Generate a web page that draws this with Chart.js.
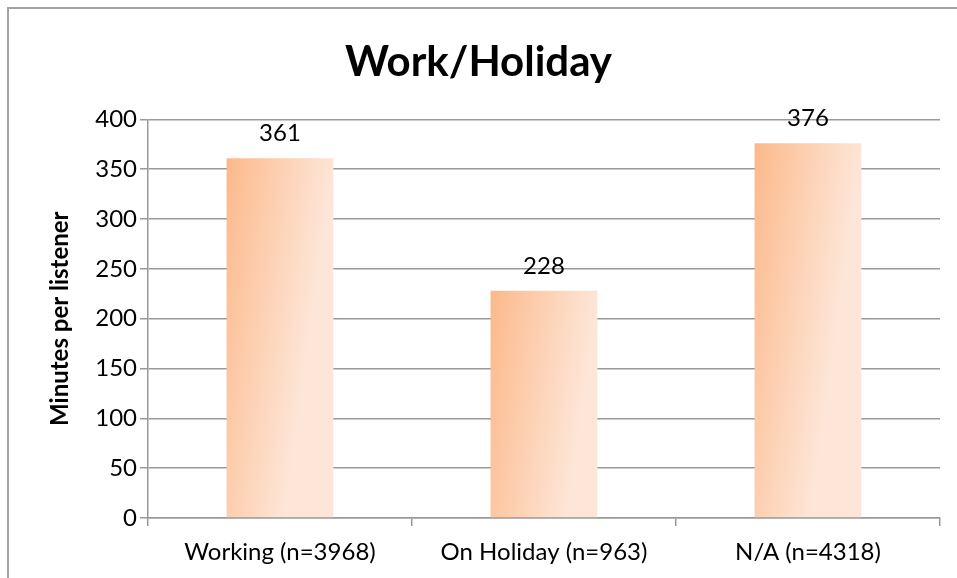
<!DOCTYPE html>
<html>
<head>
<meta charset="utf-8">
<script src="https://cdn.jsdelivr.net/npm/chart.js@4.4.1/dist/chart.umd.min.js"></script>
<style>
  html, body { margin: 0; padding: 0; overflow: hidden; background: #fff; }
  #frame { position: absolute; left: 7px; top: 7px; width: 1000px; height: 700px; border: 2px solid #a3a3a3; }
  #wrap { position: absolute; left: 0; top: 0; width: 957px; height: 578px; }
</style>
</head>
<body>
<div id="frame"></div>
<div id="wrap"><canvas id="chart"></canvas></div>
<script>
// Work/Holiday chart data
const categories = ['Working (n=3968)', 'On Holiday (n=963)', 'N/A (n=4318)'];
const minutes = [361, 228, 376];
const yTicks = [0, 50, 100, 150, 200, 250, 300, 350, 400];

const FONT = 'Lato, "Open Sans", sans-serif';
const BAR_PCT = 0.405;

// mostly horizontal gradient per bar, tilted a little downwards
function barFill(ctx) {
  const chart = ctx.chart;
  const xs = chart.scales.x, ys = chart.scales.y;
  if (!chart.chartArea || !xs || ctx.type !== 'data') return '#fcc8a4';
  const cx = xs.getPixelForValue(ctx.dataIndex);
  const w = xs.width / categories.length * BAR_PCT;
  const top = ys.getPixelForValue(minutes[ctx.dataIndex]);
  const g = chart.ctx.createLinearGradient(cx - w / 2, top, cx + w / 2, top + 15);
  g.addColorStop(0, '#fcb98b');
  g.addColorStop(1, '#fde6d8');
  return g;
}

const valueLabels = {
  id: 'valueLabels',
  afterDatasetsDraw(chart) {
    const c = chart.ctx;
    const meta = chart.getDatasetMeta(0);
    c.save();
    c.font = '24px ' + FONT;
    c.fillStyle = '#000';
    c.textAlign = 'center';
    c.textBaseline = 'middle';
    meta.data.forEach((bar, i) => {
      c.fillText(String(minutes[i]), bar.x, bar.y - 25);
    });
    c.restore();
  }
};

new Chart(document.getElementById('chart'), {
  type: 'bar',
  data: {
    labels: categories,
    datasets: [{
      data: minutes,
      backgroundColor: barFill,
      barPercentage: BAR_PCT,
      categoryPercentage: 1.0,
      borderWidth: 0
    }]
  },
  options: {
    responsive: true,
    maintainAspectRatio: false,
    animation: false,
    layout: { padding: { left: 17, right: 17, top: 0, bottom: 0 } },
    plugins: {
      legend: { display: false },
      tooltip: { enabled: false },
      title: {
        display: true,
        text: 'Work/Holiday',
        color: '#000',
        font: { family: FONT, size: 42, weight: 'bold' },
        padding: { top: 37, bottom: 32 }
      }
    },
    scales: {
      x: {
        grid: { offset: true, drawOnChartArea: false, drawTicks: true, tickLength: 8, color: '#999', lineWidth: 1.5 },
        border: { color: '#999', width: 1.5 },
        ticks: { color: '#000', padding: 12, font: { family: FONT, size: 24 } },
        afterFit(scale) { scale.height = 60; }
      },
      y: {
        min: 0,
        max: 400,
        afterBuildTicks(scale) { scale.ticks = yTicks.map(v => ({ value: v })); },
        grid: { color: '#999', lineWidth: 1.5, tickLength: 8 },
        border: { color: '#999', width: 1.5 },
        ticks: { color: '#000', padding: 3, font: { family: FONT, size: 24 } },
        title: {
          display: true,
          text: 'Minutes per listener',
          color: '#000',
          font: { family: FONT, size: 24, weight: 'bold' },
          padding: { top: 29, bottom: 0 }
        },
        afterFit(scale) { scale.width = 131; }
      }
    }
  },
  plugins: [valueLabels]
});
</script>
</body>
</html>
